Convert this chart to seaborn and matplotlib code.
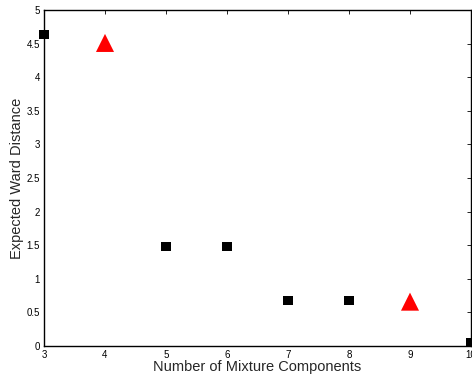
import matplotlib
matplotlib.use("Agg")
import matplotlib.pyplot as plt
import seaborn as sns
import pandas as pd

# Expected Ward distance per number of mixture components
square_k = [3, 5, 6, 7, 8, 10]
square_dist = [4.63, 1.48, 1.48, 0.68, 0.68, 0.05]
triangle_k = [4, 9]
triangle_dist = [4.51, 0.66]

x_ticks = [3, 4, 5, 6, 7, 8, 9, 10]
y_ticks = [0, 0.5, 1, 1.5, 2, 2.5, 3, 3.5, 4, 4.5, 5]

sns.set_style("white")
plt.rcParams["font.family"] = ["Liberation Sans", "DejaVu Sans"]

fig = plt.figure(figsize=(4.72, 3.75), dpi=100)
ax = fig.add_axes([44 / 472, 29 / 375, 427 / 472, 336 / 375])

sq = pd.DataFrame({"k": square_k, "d": square_dist})
tri = pd.DataFrame({"k": triangle_k, "d": triangle_dist})

sns.scatterplot(data=sq, x="k", y="d", marker="s", s=6.5 ** 2, color="black",
                edgecolor="none", ax=ax, clip_on=False, zorder=3)
sns.scatterplot(data=tri, x="k", y="d", marker="^", s=13 ** 2, color="red",
                edgecolor="none", ax=ax, clip_on=False, zorder=3)

ax.set_xlim(3, 10)
ax.set_ylim(0, 5)
ax.set_xticks(x_ticks)
ax.set_xticklabels([str(t) for t in x_ticks])
ax.set_yticks(y_ticks)
ax.set_yticklabels([f"{t:g}" for t in y_ticks])
ax.tick_params(direction="in", top=True, right=True, length=3, width=0.6,
               labelsize=7, colors="black", pad=3)
for sp in ax.spines.values():
    sp.set_color("black")
    sp.set_linewidth(1.0)

ax.set_xlabel("Number of Mixture Components", fontsize=10.5, labelpad=0)
ax.set_ylabel("Expected Ward Distance", fontsize=10.5, labelpad=2)

fig.savefig("out.png", dpi=100)
